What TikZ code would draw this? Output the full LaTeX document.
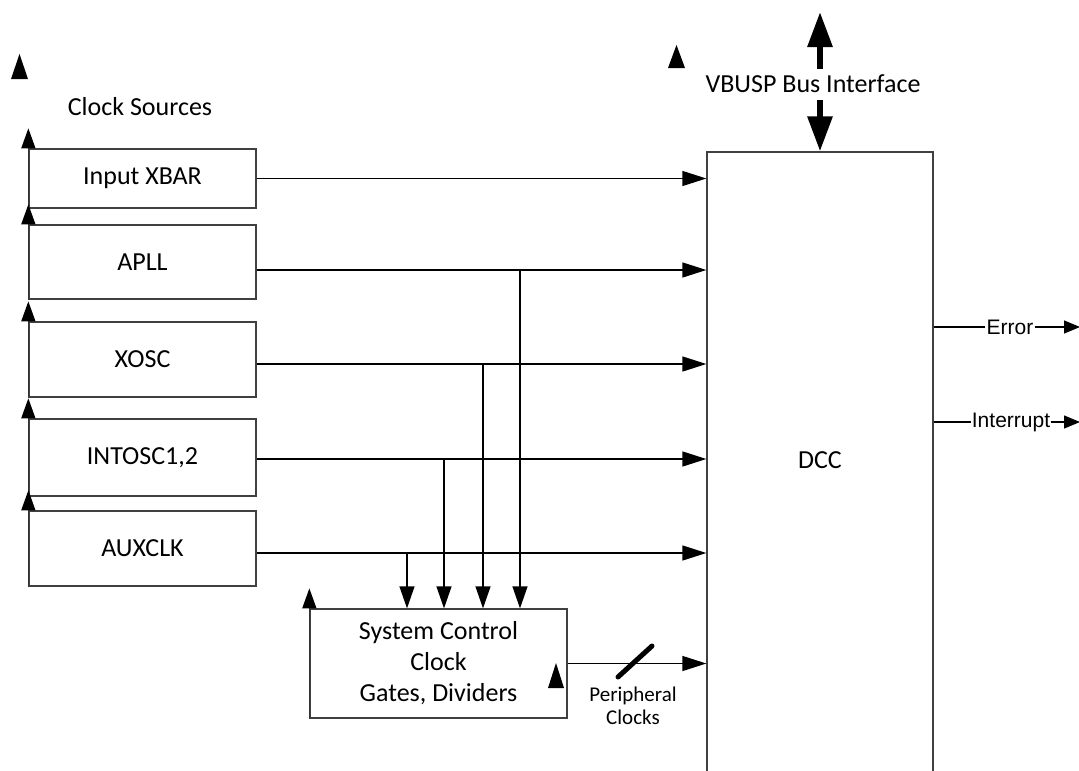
\documentclass[tikz,border=0pt]{standalone}
\usepackage{fontspec}
\setsansfont{Carlito}
\newfontfamily\arialfont{Liberation Sans}
\usetikzlibrary{arrows.meta,calc,positioning}

\begin{document}
\begin{tikzpicture}[x=1pt, y=-1pt, font=\sffamily\fontsize{26}{31}\selectfont,
    src/.style={draw=black!75, line width=1.3pt, minimum width=227pt, inner sep=0pt},
    sig/.style={line width=1.3pt, -{Triangle[length=24pt,width=15pt]}},
    tap/.style={line width=1.3pt, -{Triangle[length=22pt,width=15pt]}},
    edgearr/.style={draw=black!80, line width=1.3pt, -{Triangle[length=20pt,width=14pt,color=black]}},
    outsig/.style={line width=1.3pt, -{Triangle[length=16pt,width=13pt]}},
    outlbl/.style={font=\arialfont\fontsize{21}{25}\selectfont, fill=white, inner sep=1pt},
    bus/.style={line width=6pt, {Triangle[length=35pt,width=24pt]}-{Triangle[length=35pt,width=24pt]}}]

\useasboundingbox (0,0) rectangle (1079,771);

% Sorgenti di clock
\node (srctitle) at (140,107) {Clock Sources};
\node[src, minimum height=59pt] (xbar) at (142.5,178.5) {Input XBAR};
\node[src, minimum height=74pt] (apll) at (142.5,262) {APLL};
\node[src, minimum height=75pt] (xosc) at (142.5,359.5) {XOSC};
\node[src, minimum height=77pt] (intosc) at (142.5,457.5) {INTOSC1,2};
\node[src, minimum height=75pt] (auxclk) at (142.5,548.5) {AUXCLK};

% Blocco system control
\node[src, minimum width=257pt, minimum height=109pt, align=center] (sys) at (438.5,663.5)
    {System Control\\Clock\\Gates, Dividers};

% DCC (aperto in basso)
\node[draw=black!75, line width=1.3pt, minimum width=226pt, minimum height=660pt, inner sep=0pt] (dcc) at (820,482) {};
\node (dcclbl) at (820,460) {DCC};

% Frecce sui bordi sinistri
\foreach \b in {xbar,apll,xosc,intosc,auxclk,sys}
    \draw[edgearr] (\b.south west) -- ([yshift=20pt]\b.north west);

% Segnali verso DCC
\coordinate (tapA) at (520,270);
\coordinate (tapX) at (483,364);
\coordinate (tapI) at (444,459);
\coordinate (tapU) at (407,553);
\draw[sig] (xbar.east) -- (dcc.west |- xbar.east);
\draw[sig] (apll.east |- tapA) -- (dcc.west |- tapA);
\draw[sig] (xosc.east |- tapX) -- (dcc.west |- tapX);
\draw[sig] (intosc.east |- tapI) -- (dcc.west |- tapI);
\draw[sig] (auxclk.east |- tapU) -- (dcc.west |- tapU);
\foreach \t in {tapA,tapX,tapI,tapU}
    \draw[tap] (\t) -- (\t |- sys.north);

% Peripheral clocks
\draw[sig] (sys.east) -- (dcc.west |- sys.east);
\draw[line width=5pt, line cap=round] (618,677) -- (652,646);
\node[font=\sffamily\fontsize{21}{23}\selectfont, align=center] (perlbl) at (633,706) {Peripheral\\Clocks};

% Bus
\coordinate (busend) at (820,12);
\draw[bus] (dcc.north) -- (busend);
\node[fill=white, inner sep=0pt, minimum height=31pt] (buslbl) at (813,84) {VBUSP Bus Interface};

% Uscite
\coordinate (errout) at (1080,327);
\coordinate (irqout) at (1080,422);
\node[outlbl] (err) at (1010,327) {Error};
\node[outlbl] (irq) at (1011,422) {Interrupt};
\draw[line width=1.3pt] (dcc.east |- err) -- (err);
\draw[outsig] (err) -- (errout);
\draw[line width=1.3pt] (dcc.east |- irq) -- (irq);
\draw[outsig] (irq) -- (irqout);

% Triangoli isolati
\fill (11,79) -- (19.5,54) -- (28,79) -- cycle;
\fill (668,68) -- (676.5,45) -- (685,68) -- cycle;
\fill (548,688) -- (556,663) -- (564,688) -- cycle;

\end{tikzpicture}
\end{document}
